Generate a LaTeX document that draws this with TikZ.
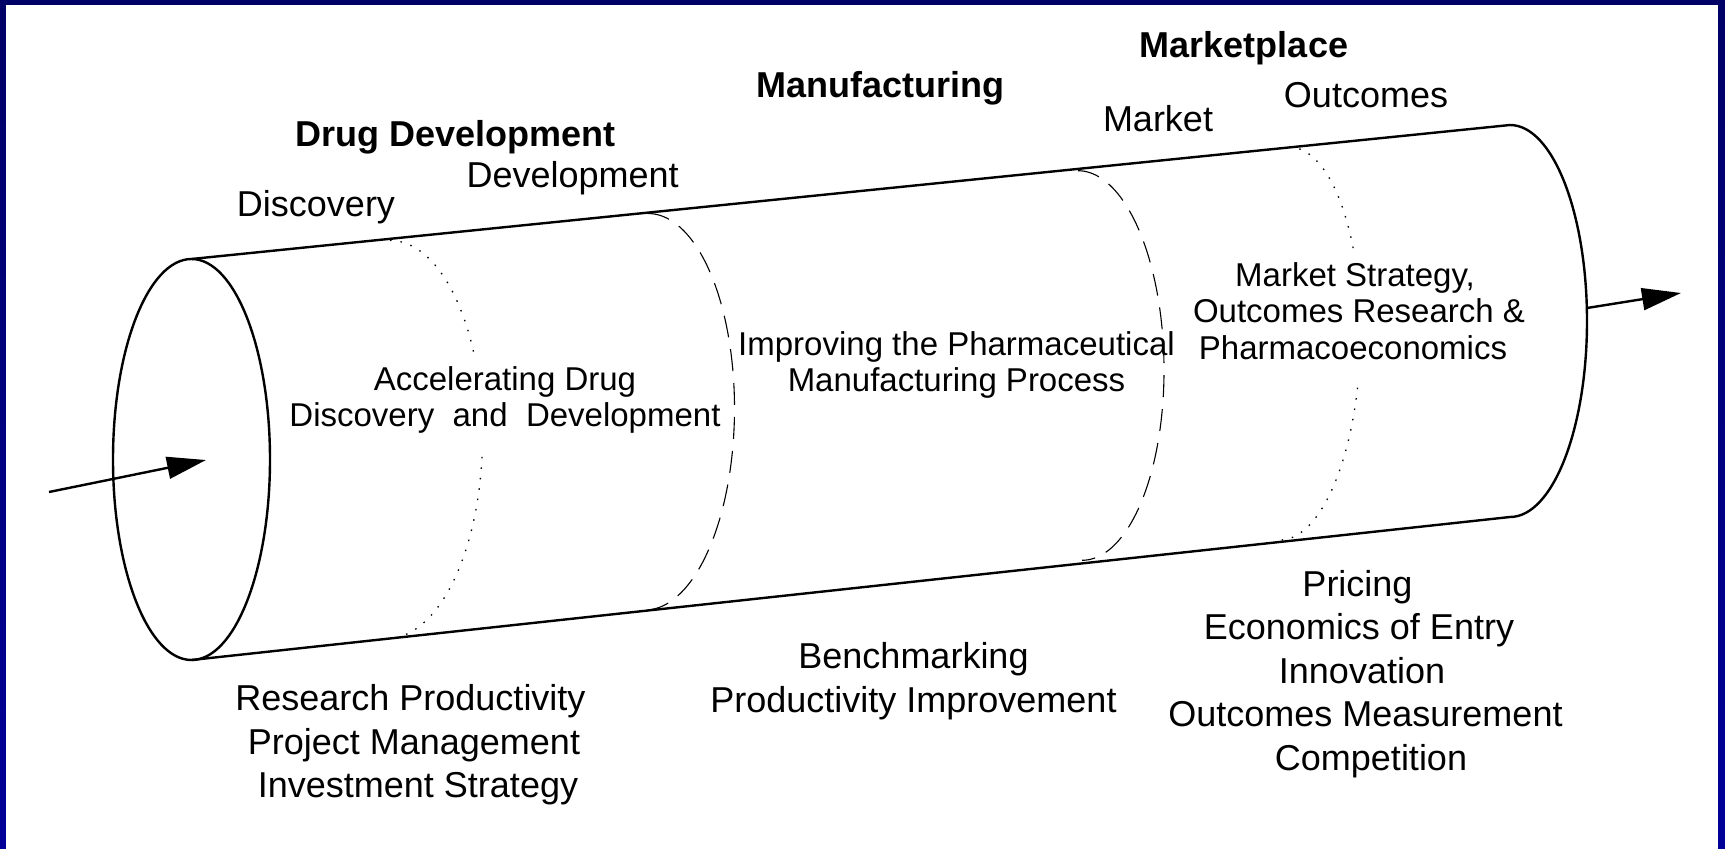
\documentclass[tikz,border=0pt]{standalone}
\usepackage{fontspec}
\setmainfont{Liberation Sans}
\usetikzlibrary{arrows.meta}
\definecolor{framtop}{RGB}{0,0,102}
\definecolor{frambot}{RGB}{0,0,153}
\begin{document}
\begin{tikzpicture}[x=1pt,y=-1pt,
  tube/.style={line width=2.4pt, line join=round},
  dashring/.style={line width=1.1pt, dash pattern=on 22pt off 12pt},
  dotring/.style={line width=1.3pt, dash pattern=on 1.5pt off 9pt},
  lbl/.style={font=\fontsize{36}{43.5}\selectfont, inner sep=0pt, align=center},
  hdr/.style={font=\fontsize{36}{43.5}\selectfont\bfseries, inner sep=0pt},
  mid/.style={font=\fontsize{33}{36.7}\selectfont, inner sep=0pt, align=center},
  flow/.style={line width=2.4pt, -{Triangle[length=39pt,width=22pt]}}
]
\useasboundingbox (0,0) rectangle (1725,849);
% frame
\shade[top color=framtop, bottom color=frambot] (0,0) rectangle (1725,849);
\fill[white] (6,5) rectangle (1718,849);

% cylinder
\coordinate (lc) at (191.5,459.5);
\coordinate (tl) at (191.5,259);
\coordinate (bl) at (191.5,660);
\coordinate (tr) at (1510,125);
\coordinate (br) at (1510,517);
\draw[tube] (lc) ellipse [x radius=78.5, y radius=200.5];
\draw[tube] (tl) -- (tr);
\draw[tube] (bl) -- (br);
\draw[tube] (tr) arc[start angle=-90, end angle=90, x radius=77, y radius=196];

% dotted ring 1
\draw[dotring] plot[domain=-90:-26, samples=50, variable=\t]
  ({388.5+94*cos(\t)-1.5*sin(\t)},{439.5+199*sin(\t)});
\draw[dotring] plot[domain=5:90, samples=50, variable=\t]
  ({388.5+94*cos(\t)-1.5*sin(\t)},{439.5+199*sin(\t)});
% dashed ring 1
\draw[dashring] plot[domain=-90:90, samples=90, variable=\t]
  ({646.5+88*cos(\t)-1.5*sin(\t)},{411.75+198.25*sin(\t)});
% dashed ring 2
\draw[dashring] plot[domain=-90:90, samples=90, variable=\t]
  ({1080+84*cos(\t)+2*sin(\t)},{365.5+194.8*sin(\t)});
% dotted ring 2
\draw[dotring] plot[domain=-90:-28, samples=50, variable=\t]
  ({1284.5+76*cos(\t)-4.5*sin(\t)},{343.5+196.5*sin(\t)});
\draw[dotring] plot[domain=13:90, samples=50, variable=\t]
  ({1284.5+76*cos(\t)-4.5*sin(\t)},{343.5+196.5*sin(\t)});

% arrows
\coordinate (inS) at (49,492);
\coordinate (inE) at (206,460);
\coordinate (outS) at (1587,308);
\coordinate (outE) at (1681,293);
\draw[flow] (inS) -- (inE);
\draw[flow] (outS) -- (outE);

% headings
\node[hdr, anchor=base] (hMarketplace) at (1244,57.5) {Marketplace};
\node[hdr, anchor=base] (hManufacturing) at (880.5,97) {Manufacturing};
\node[hdr, anchor=base] (hDrugDev) at (455.4,146.5) {Drug Development};
\node[lbl, anchor=base] (sMarket) at (1158,131.5) {Market};
\node[lbl, anchor=base] (sOutcomes) at (1366,107) {Outcomes};
\node[lbl, anchor=base] (sDevelopment) at (572.6,187.5) {Development};
\node[lbl, anchor=base] (sDiscovery) at (316,216) {Discovery};

% inner texts
\node[mid] (tAccel) at (505,400) {Accelerating Drug\\Discovery~~and~~Development};
\node[mid] (tImprove) at (956.5,365) {Improving the Pharmaceutical\\Manufacturing Process};
\node[mid] (tMarketStrat) at (1359,311) {\hspace*{-8pt}Market Strategy,\\Outcomes Research \&\\\hspace*{-12pt}Pharmacoeconomics};

% bottom texts
\node[lbl] (bResearch) at (414,745) {\hspace*{-7pt}Research Productivity\\Project Management\\\hspace*{8pt}Investment Strategy};
\node[lbl] (bBench) at (913.5,681) {Benchmarking\\Productivity Improvement};
\node[lbl] (bPricing) at (1362,674) {\hspace*{-9pt}Pricing\\\hspace*{-6pt}Economics of Entry\\Innovation\\\hspace*{7pt}Outcomes Measurement\\\hspace*{18pt}Competition};
\end{tikzpicture}
\end{document}
